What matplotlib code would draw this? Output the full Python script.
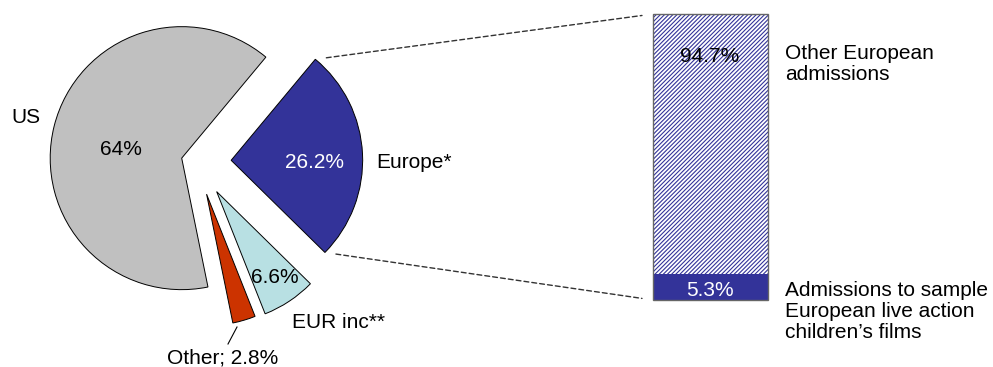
import numpy as np
import matplotlib
matplotlib.use("Agg")
import matplotlib.pyplot as plt
from matplotlib.patches import ConnectionPatch
from matplotlib.lines import Line2D

# pie: admissions by film origin (counter-clockwise from Europe)
pie_names = ["Europe*", "US", "Other", "EUR inc**"]
pie_values = [26.2, 64, 2.8, 6.6]
pie_colors = ["#333399", "#C0C0C0", "#CC3300", "#B8E0E3"]
pie_explode = [0.26, 0.12, 0.255, 0.27]

# split of the European slice (bottom to top)
bar_names = ["Admissions to sample\nEuropean live action\nchildren\u2019s films",
             "Other European\nadmissions"]
bar_values = [5.3, 94.7]

W, H = 993, 367
R = 131.5          # pie radius in px
CX, CY = 197, 162  # pie centre in px from top-left

plt.rcParams['font.family'] = ['Liberation Sans', 'DejaVu Sans']
plt.rcParams['font.size'] = 15
plt.rcParams['hatch.linewidth'] = 0.8

fig = plt.figure(figsize=(W / 100, H / 100), dpi=100)


def label(s, x, y, ha='center', color='black', **kw):
    # x, y in px from top-left, y is the baseline of the last line
    fig.text(x / W, 1 - y / H, s, ha=ha, va='baseline', color=color, **kw)


ax = fig.add_axes([0, 0, 1, 1])
wedges, _ = ax.pie(pie_values, explode=pie_explode, colors=pie_colors,
                   startangle=-44.5, radius=1,
                   wedgeprops=dict(edgecolor='black', linewidth=0.7))
ax.set_aspect('auto')
ax.set_xlim(-CX / R, (W - CX) / R)
ax.set_ylim(-(H - CY) / R, CY / R)
ax.axis('off')

# pie labels
label("%g%%" % pie_values[1], 121, 155)
label("US", 26, 123)
label("%g%%" % pie_values[0], 314, 168, color='white')
label(pie_names[0], 376, 168, ha='left')
label("%g%%" % pie_values[3], 275, 283)
label(pie_names[3], 292, 328, ha='left')
label("%s; %g%%" % (pie_names[2], pie_values[2]), 223, 363)
fig.add_artist(Line2D([237 / W, 228 / W], [1 - 327 / H, 1 - 344 / H],
                      transform=fig.transFigure, color='black', lw=0.8))

# stacked bar for the European slice
bax = fig.add_axes([653 / W, 1 - 300 / H, 115 / W, 286 / H])
base = -4.2
bax.bar(0, bar_values[0] - base, bottom=base, width=1, color='#333399',
        edgecolor='#333399', lw=0)
bax.bar(0, bar_values[1], bottom=bar_values[0], width=1, color='white',
        edgecolor='#333399', hatch='////////', lw=0)
bax.bar(0, sum(bar_values) - base, bottom=base, width=1, fill=False,
        edgecolor='#666666', lw=1, clip_on=False)
bax.set_xlim(-0.5, 0.5)
bax.set_ylim(base, 100)
bax.axis('off')

label("%g%%" % bar_values[1], 710, 62)
label("%g%%" % bar_values[0], 710, 296, color='white')
label(bar_names[1], 785, 80, ha='left', linespacing=1.15)
label(bar_names[0], 785, 338, ha='left', linespacing=1.15)

# dashed connectors from the Europe wedge to the bar
eu = wedges[0]
for theta, yb in [(eu.theta2, 100), (eu.theta1, base)]:
    xa = eu.center[0] + eu.r * np.cos(np.radians(theta))
    ya = eu.center[1] + eu.r * np.sin(np.radians(theta))
    con = ConnectionPatch(xyA=(xa, ya), coordsA=ax.transData,
                          xyB=(-0.5, yb), coordsB=bax.transData,
                          color='#333333', lw=1, linestyle=(0, (3.5, 2.2)),
                          shrinkA=8, shrinkB=8)
    fig.add_artist(con)

fig.savefig('out.png', dpi=100)
